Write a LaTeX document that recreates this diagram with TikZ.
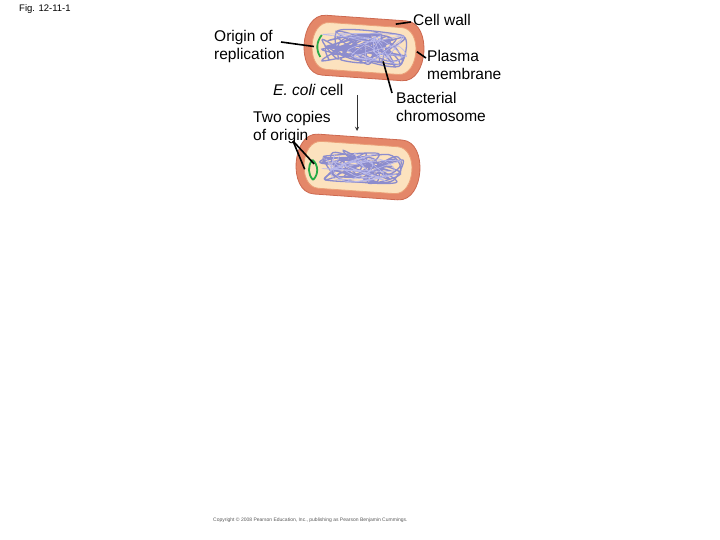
\documentclass[tikz,border=0pt]{standalone}
\usepackage{fontspec}
\setmainfont{Liberation Sans}
\begin{document}
\begin{tikzpicture}[x=1pt,y=-1pt,
  lbl/.style={font=\fontsize{15.5}{18}\selectfont,align=left,inner sep=0,anchor=north west},
  ptr/.style={line width=1.6pt,black},
  wall/.style={fill={rgb,255:red,228;green,135;blue,105},draw={rgb,255:red,205;green,105;blue,80},line width=0.8pt},
  cyto/.style={fill={rgb,255:red,252;green,226;blue,190},draw={rgb,255:red,235;green,160;blue,120},line width=0.8pt},
  chrom/.style={draw={rgb,255:red,140;green,140;blue,205},line width=1.3pt},
  chroml/.style={draw={rgb,255:red,185;green,185;blue,235},line width=0.6pt},
  ori/.style={draw={rgb,255:red,40;green,170;blue,70},line width=1.8pt}]
\useasboundingbox (0,0) rectangle (720,540);
\node[anchor=north west,inner sep=0,font=\fontsize{9.5}{11}\selectfont] (fig) at (19,4) {Fig. 12-11-1};
% top cell
\begin{scope}[shift={(364,48)},rotate=-4]
\draw[wall] (-40,-30) to[out=180,in=90] (-60,0) to[out=-90,in=180] (-40,30) -- (40,30) to[out=0,in=-90] (60,0) to[out=90,in=0] (40,-30) -- cycle;
\draw[cyto] (-36,-23) to[out=180,in=90] (-52,0) to[out=-90,in=180] (-36,24) -- (36,24) to[out=0,in=-90] (52,0) to[out=90,in=0] (36,-23) -- cycle;
\pgfmathsetseed{7}
\foreach \k in {1,2,3}{\draw[chrom] plot[smooth,samples=25,domain=1:25] ({44*rand},{16*rand});}
\pgfmathsetseed{11}
\draw[chroml] plot[smooth,samples=30,domain=1:30] ({44*rand},{16*rand});
\draw[ori] (-43,-10) to[bend right=35] (-43,12);
\coordinate (o1) at (-50,2);
\coordinate (cw) at (30,-26);
\coordinate (pm) at (53,0);
\coordinate (bc) at (20,12);
\end{scope}
% bottom cell
\begin{scope}[shift={(358,167)},rotate=-4]
\draw[wall] (-42,-30) to[out=180,in=90] (-62,0) to[out=-90,in=180] (-42,30) -- (42,30) to[out=0,in=-90] (62,0) to[out=90,in=0] (42,-30) -- cycle;
\draw[cyto] (-38,-23) to[out=180,in=90] (-54,0) to[out=-90,in=180] (-38,24) -- (38,24) to[out=0,in=-90] (54,0) to[out=90,in=0] (38,-23) -- cycle;
\pgfmathsetseed{23}
\foreach \k in {1,2,3}{\draw[chrom] plot[smooth,samples=25,domain=1:25] ({6+42*rand},{16*rand});}
\pgfmathsetseed{31}
\draw[chroml] plot[smooth,samples=30,domain=1:30] ({6+42*rand},{16*rand});
\draw[ori] (-46,-4) to[bend right=40] (-44,16);
\draw[ori] (-46,-4) to[bend left=50] (-44,16);
\coordinate (o2) at (-53,6);
\coordinate (o3) at (-44,0);
\end{scope}
\node[lbl] (orig) at (214,30) {Origin of\\replication};
\node[lbl] (cwl) at (413,14) {Cell wall};
\node[lbl] (pml) at (427,50) {Plasma\\membrane};
\node[lbl] (bcl) at (396,92) {Bacterial\\chromosome};
\node[lbl] (eco) at (273,84) {\textit{E. coli} cell};
\node[lbl] (two) at (253,111) {Two copies\\of origin};
\coordinate (c0) at (281,42);
\draw[ptr] (c0) -- (o1);
\coordinate (c1) at (411,22);
\draw[ptr] (c1) -- (cw);
\coordinate (c2) at (426,58);
\draw[ptr] (c2) -- (pm);
\coordinate (c3) at (392,93);
\draw[ptr] (c3) -- (bc);
\coordinate (t1) at (293,141);
\draw[ptr] (t1) -- (o2);
\draw[ptr] (t1) -- (o3);
\coordinate (a1) at (357,95);
\coordinate (a2) at (357,131);
\draw[-stealth,gray!40!black,line width=0.9pt] (a1) -- (a2);
\node[anchor=north west,inner sep=0,font=\fontsize{5}{6}\selectfont,text=gray!70!black] (cp) at (213,518) {Copyright \textcopyright{} 2008 Pearson Education, Inc., publishing as Pearson Benjamin Cummings.};
\end{tikzpicture}
\end{document}
